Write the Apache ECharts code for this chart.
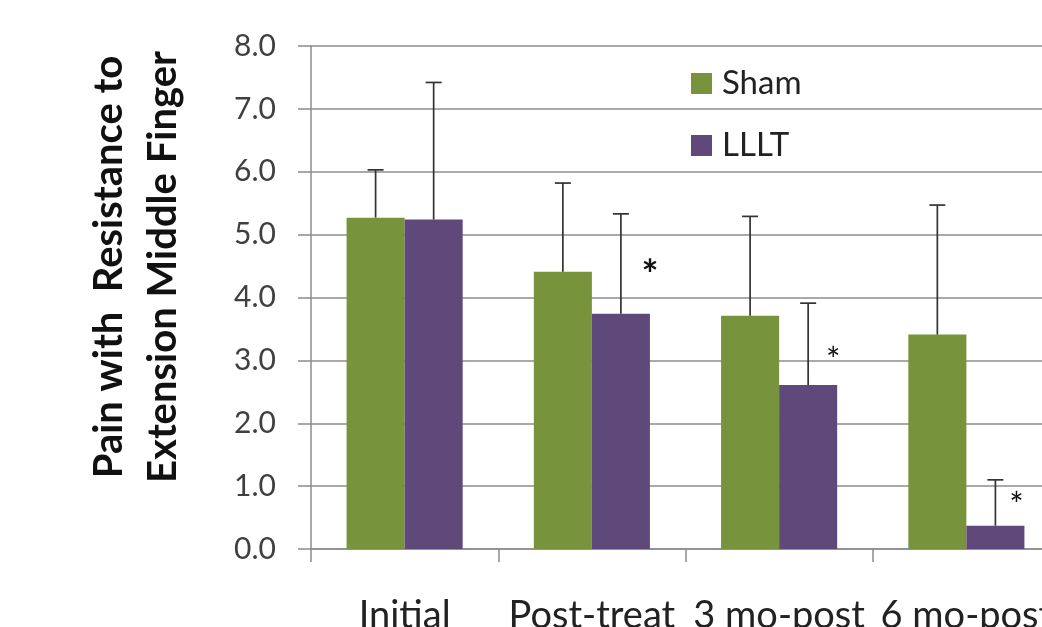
<!DOCTYPE html>
<html><head><meta charset="utf-8">
<script src="https://cdn.jsdelivr.net/npm/echarts/dist/echarts.min.js"></script>
<style>html,body{margin:0;padding:0;background:#fff}#c{width:1042px;height:627px}</style>
</head><body><div id="c"></div>
<script>
const categories = ['Initial', 'Post-treat', '3 mo-post', '6 mo-post'];
const shamMean = [5.27, 4.41, 3.71, 3.41];
const shamUpper = [6.03, 5.82, 5.29, 5.47];
const llltMean = [5.24, 3.74, 2.61, 0.37];
const llltUpper = [7.42, 5.33, 3.91, 1.10];
const sigMarkY = [null, 4.48, 3.13, 0.83];
const yTitle = 'Pain with  Resistance to\nExtension Middle Finger';

const FONT = 'Lato';
const GREEN = '#77933C', PURPLE = '#5F497A';
const GAP = 0.38;

function errRender(sign) {
  return function (params, api) {
    const idx = api.value(0);
    const lo = api.coord([idx, api.value(1)]);
    const hi = api.coord([idx, api.value(2)]);
    const band = api.size([1, 0])[0];
    const bw = band * (1 - GAP) / 2;
    const x = lo[0] + sign * bw / 2;
    const st = { stroke: '#333', lineWidth: 1.7 };
    return { type: 'group', children: [
      { type: 'line', shape: { x1: x, y1: lo[1], x2: x, y2: hi[1] }, style: st },
      { type: 'line', shape: { x1: x - 8, y1: hi[1], x2: x + 8, y2: hi[1] }, style: st }
    ]};
  };
}

const sigData = [];
sigMarkY.forEach((v, i) => { if (v != null) sigData.push([i, v]); });
const sigDx = [0, -4, -8];

const chart = echarts.init(document.getElementById('c'));
chart.setOption({
  animation: false,
  backgroundColor: '#fff',
  grid: { left: 311, top: 46, width: 749, height: 503, outerBoundsMode: 'none', containLabel: false },
  graphic: [{
    type: 'text', x: 136, y: 267, rotation: Math.PI / 2,
    style: { text: yTitle, fontFamily: FONT, fontSize: 40, fontWeight: 'bold', fill: '#111',
      align: 'center', verticalAlign: 'middle', lineHeight: 54 }
  }],
  legend: {
    orient: 'vertical', left: 686, top: 62, itemWidth: 21, itemHeight: 21, itemGap: 29,
    icon: 'rect',
    textStyle: { fontFamily: FONT, fontSize: 33, color: '#222', padding: [0, 0, 0, 5] },
    data: ['Sham', 'LLLT']
  },
  xAxis: {
    type: 'category', data: categories,
    axisLine: { lineStyle: { color: '#8c8c8c', width: 1.5 } },
    axisTick: { show: true, length: 13, lineStyle: { color: '#8c8c8c', width: 1.5 } },
    axisLabel: { fontFamily: FONT, fontSize: 38, color: '#222', margin: 48, interval: 0 }
  },
  yAxis: {
    type: 'value', min: 0, max: 8, interval: 1,
    axisLine: { show: true, lineStyle: { color: '#8c8c8c', width: 1.5 } },
    axisTick: { show: true, length: 13, lineStyle: { color: '#8c8c8c', width: 1.5 } },
    splitLine: { lineStyle: { color: '#8c8c8c', width: 1.5 } },
    axisLabel: { fontFamily: FONT, fontSize: 30, color: '#404040', margin: 35, formatter: v => v.toFixed(1) }
  },
  series: [
    { name: 'Sham', type: 'bar', data: shamMean, itemStyle: { color: GREEN }, barGap: '0%', barCategoryGap: (GAP * 100) + '%' },
    { name: 'LLLT', type: 'bar', data: llltMean, itemStyle: { color: PURPLE } },
    { type: 'custom', renderItem: errRender(-1), data: shamMean.map((m, i) => [i, m, shamUpper[i]]), encode: { x: 0, y: [1, 2] }, z: 5 },
    { type: 'custom', renderItem: errRender(1), data: llltMean.map((m, i) => [i, m, llltUpper[i]]), encode: { x: 0, y: [1, 2] }, z: 5 },
    { type: 'custom', z: 6, data: sigData, encode: { x: 0, y: 1 },
      renderItem: function (params, api) {
        const p = api.coord([api.value(0), api.value(1)]);
        const band = api.size([1, 0])[0];
        const bw = band * (1 - GAP) / 2;
        const big = params.dataIndex === 0;
        return { type: 'text', x: p[0] + bw + sigDx[params.dataIndex], y: p[1] + 9,
          style: { text: '*', fontFamily: FONT, fontSize: big ? 40 : 34, fontWeight: big ? 'bold' : 'normal',
            fill: '#111', align: 'center', verticalAlign: 'middle' } };
      } }
  ]
});
</script></body></html>
